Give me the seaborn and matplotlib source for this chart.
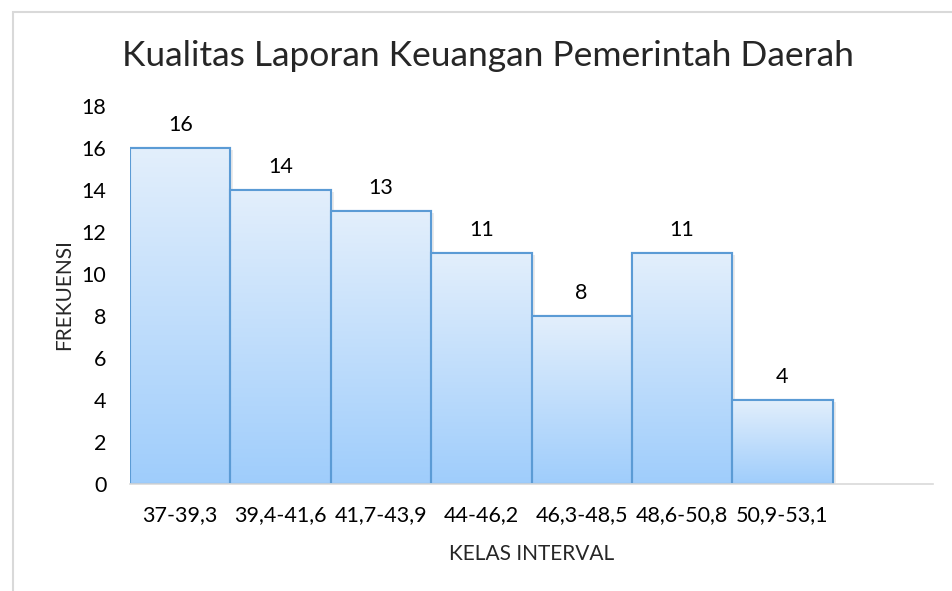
"""Histogram-style bar chart: Kualitas Laporan Keuangan Pemerintah Daerah."""
import matplotlib
import matplotlib.pyplot as plt
import numpy as np
import pandas as pd
import seaborn as sns
from matplotlib.colors import LinearSegmentedColormap
from matplotlib.patches import Rectangle

matplotlib.use("Agg")

# data
kelas = ["37-39,3", "39,4-41,6", "41,7-43,9", "44-46,2",
         "46,3-48,5", "48,6-50,8", "50,9-53,1"]
frekuensi = [16, 14, 13, 11, 8, 11, 4]
y_ticks = list(range(0, 19, 2))

sns.set_theme(style="white")
plt.rcParams["font.family"] = ["Lato", "DejaVu Sans"]

fig = plt.figure(figsize=(9.52, 5.91), dpi=100)
ax = fig.add_axes([0.1366, 0.181, 0.8434, 0.6396])

df = pd.DataFrame({"kelas": kelas, "frekuensi": frekuensi})
sns.barplot(data=df, x="kelas", y="frekuensi", ax=ax, width=1.0,
            color="#c5dffa", edgecolor="#5b9bd5", linewidth=1.5,
            saturation=1)

# vertical gradient fill, clipped to each bar
grad = LinearSegmentedColormap.from_list("g", ["#9fcdfb", "#e3effc"])
ax.set_xlim(-0.5, 7.5)
ax.set_ylim(0, 18)
for bar in ax.patches:
    x0, y0 = bar.get_x(), bar.get_y()
    w, h = bar.get_width(), bar.get_height()
    # soft shadow
    sh = Rectangle((x0 + 0.03, y0), w, h - 0.1, facecolor="#000000",
                   alpha=0.08, edgecolor="none", zorder=0.5)
    ax.add_patch(sh)
    bar.set_zorder(2)
    img = ax.imshow(np.linspace(0, 1, 256).reshape(-1, 1), cmap=grad,
                    extent=[x0, x0 + w, y0, y0 + h], origin="lower",
                    aspect="auto", zorder=2.1)
    img.set_clip_path(bar)
    edge = Rectangle((x0, y0), w, h, facecolor="none",
                     edgecolor="#5b9bd5", linewidth=1.5, zorder=3)
    ax.add_patch(edge)
    ax.text(x0 + w / 2, h + 0.62, f"{int(h)}", ha="center", va="bottom",
            fontsize=15.5, color="#000000")

ax.set_xlim(-0.5, 7.5)
ax.set_ylim(0, 18)
ax.set_yticks(y_ticks)
ax.tick_params(axis="both", labelsize=15.5, length=0, colors="#000000")
ax.tick_params(axis="x", pad=15)
ax.tick_params(axis="y", pad=17)
for side in ["left", "right", "top"]:
    ax.spines[side].set_visible(False)
ax.spines["bottom"].set_color("#d9d9d9")
ax.spines["bottom"].set_linewidth(1.2)
ax.spines["bottom"].set_zorder(4)

ax.set_xlabel("KELAS INTERVAL", fontsize=15, labelpad=14)
ax.set_ylabel("FREKUENSI", fontsize=15, labelpad=5)
fig.text(0.513, 0.905, "Kualitas Laporan Keuangan Pemerintah Daerah",
         ha="center", va="center", fontsize=25.5)

# chart border
fig.patches.append(Rectangle((0.0135, -0.01), 1.1, 0.99, transform=fig.transFigure,
                             facecolor="none", edgecolor="#d9d9d9",
                             linewidth=1.5))

fig.savefig("out.png", dpi=100)
